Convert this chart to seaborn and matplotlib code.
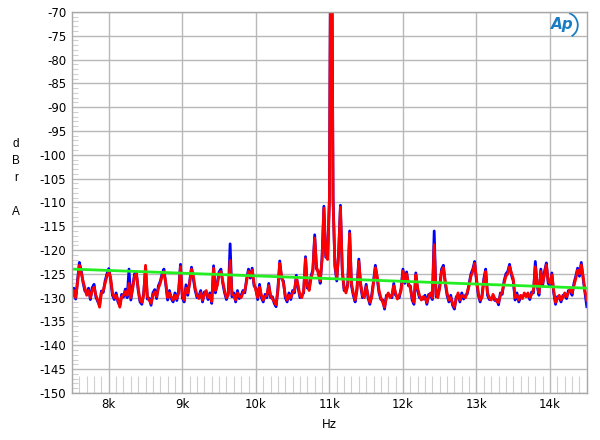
import numpy as np
import matplotlib
matplotlib.use("Agg")
import matplotlib.pyplot as plt
from matplotlib.patches import Arc
from matplotlib.ticker import MultipleLocator, FuncFormatter
import seaborn as sns

# FFT bins, 25 Hz apart, 7.5 kHz .. 14.5 kHz
freq_hz = np.arange(7500, 14501, 25)

red_db = [
    -129.5, -128.5, -130.0, -127.0, -123.2, -124.8, -126.5, -128.0, -129.5, -128.5,
    -130.0, -128.5, -127.8, -129.5, -130.5, -132.0, -129.0, -128.5, -127.0, -125.5,
    -124.5, -125.8, -129.0, -130.0, -129.5, -130.5, -132.0, -129.8, -129.5, -128.7,
    -129.5, -127.0, -130.0, -128.2, -125.5, -125.0, -128.0, -130.5, -131.0, -129.5,
    -123.2, -129.8, -130.5, -131.2, -129.5, -128.8, -129.8, -128.0, -127.0, -125.5,
    -124.5, -126.8, -130.0, -129.0, -129.8, -130.5, -129.5, -130.2, -129.0, -123.5,
    -129.5, -130.5, -128.0, -129.0, -127.0, -124.0, -125.5, -128.0, -129.5, -130.2,
    -129.0, -130.5, -129.3, -128.5, -130.0, -129.5, -130.8, -123.8, -128.5, -127.5,
    -125.0, -124.5, -126.5, -128.5, -130.0, -129.5, -122.2, -129.3, -129.5, -130.5,
    -129.0, -129.8, -130.0, -129.0, -128.5, -126.5, -124.5, -125.5, -124.2, -127.0,
    -128.5, -130.0, -127.8, -129.5, -130.5, -129.8, -129.5, -127.5, -129.5, -130.3,
    -130.8, -131.5, -128.5, -122.8, -125.5, -127.0, -129.5, -130.5, -129.5, -130.0,
    -129.0, -128.5, -125.8, -127.5, -129.5, -130.0, -128.5, -121.8, -127.5, -128.5,
    -126.0, -124.5, -117.5, -123.5, -125.0, -126.5, -122.0, -111.2, -121.0, -122.0,
    -110.0, -30.0, -110.0, -123.0, -126.0, -121.0, -111.0, -124.0, -128.0, -129.0,
    -127.5, -116.5, -127.0, -129.0, -130.5, -128.5, -122.4, -127.0, -129.5, -130.0,
    -127.7, -129.5, -131.0, -130.0, -127.0, -123.7, -125.5, -128.5, -130.0, -131.0,
    -132.0, -130.0, -129.0, -130.0, -129.5, -127.5, -129.0, -130.3, -129.5, -128.5,
    -124.4, -126.5, -125.0, -127.0, -128.0, -130.0, -131.0, -125.2, -128.0, -129.5,
    -130.5, -129.8, -130.0, -131.0, -129.8, -129.0, -130.0, -118.9, -129.3, -130.0,
    -128.0, -124.5, -123.7, -126.5, -129.0, -130.5, -130.0, -131.2, -132.0, -130.2,
    -129.0, -130.5, -129.5, -129.8, -130.0, -128.8, -127.5, -125.5, -124.5, -122.8,
    -126.0, -129.0, -130.5, -130.0, -126.5, -124.5, -129.0, -130.0, -130.5, -129.3,
    -130.2, -130.8, -131.0, -129.5, -128.8, -127.0, -125.5, -125.0, -123.5, -124.8,
    -126.0, -130.0, -129.5, -130.5, -129.5, -130.2, -129.0, -129.8, -129.0, -130.0,
    -129.3, -128.5, -123.5, -127.0, -129.0, -124.5, -127.0, -125.0, -123.1, -126.5,
    -127.0, -125.2, -128.5, -131.0, -130.2, -129.5, -130.5, -130.0, -129.0, -129.8,
    -129.0, -128.2, -129.0, -127.5, -126.0, -124.2, -125.0, -123.1, -125.5, -128.5,
    -130.5,
]

blue_db = [
    -130.0, -128.0, -130.3, -126.5, -122.6, -124.3, -126.8, -128.6, -129.0, -128.0,
    -130.4, -127.9, -127.2, -129.9, -130.8, -131.6, -128.6, -128.9, -126.5, -125.0,
    -123.9, -126.2, -129.5, -130.4, -129.0, -130.9, -131.7, -129.3, -129.9, -128.2,
    -130.0, -124.0, -130.5, -127.7, -125.0, -124.6, -128.5, -130.9, -131.4, -129.0,
    -123.6, -130.3, -130.1, -131.6, -129.0, -128.3, -130.2, -127.5, -126.6, -125.0,
    -124.0, -127.2, -130.5, -128.5, -130.2, -130.9, -129.0, -130.6, -128.5, -123.0,
    -130.0, -130.9, -127.3, -129.5, -126.5, -123.6, -126.0, -128.5, -130.0, -129.7,
    -128.5, -130.9, -128.8, -129.0, -130.4, -129.0, -131.2, -123.3, -129.0, -127.0,
    -124.6, -124.0, -127.0, -129.0, -130.4, -129.0, -118.7, -129.8, -129.0, -130.9,
    -128.5, -130.2, -129.5, -128.5, -129.0, -126.0, -124.0, -125.9, -123.8, -127.5,
    -128.0, -130.4, -127.2, -130.0, -130.9, -129.3, -130.0, -127.0, -130.0, -129.8,
    -131.2, -131.9, -128.0, -122.3, -126.0, -126.5, -130.0, -130.9, -129.0, -130.4,
    -128.5, -129.0, -125.3, -128.0, -130.0, -129.5, -129.0, -121.4, -128.0, -128.0,
    -125.5, -124.1, -116.8, -124.0, -124.5, -127.0, -121.6, -110.8, -121.5, -121.6,
    -109.0, -30.0, -109.0, -123.5, -126.5, -120.6, -110.6, -124.5, -128.5, -128.5,
    -127.0, -116.0, -127.5, -129.5, -130.9, -128.0, -121.9, -127.5, -130.0, -129.5,
    -127.2, -130.0, -131.4, -129.5, -126.5, -123.2, -126.0, -129.0, -130.4, -130.5,
    -132.4, -129.5, -129.5, -129.6, -130.0, -127.0, -129.5, -129.8, -130.0, -128.0,
    -124.0, -127.0, -124.6, -127.5, -127.5, -130.5, -131.4, -124.8, -128.5, -130.0,
    -130.1, -130.3, -129.5, -131.4, -129.3, -129.5, -130.4, -116.0, -129.8, -129.5,
    -127.5, -124.0, -123.2, -127.0, -129.5, -130.9, -129.5, -131.6, -132.4, -129.8,
    -129.5, -130.9, -129.0, -130.3, -129.5, -129.2, -127.0, -125.0, -124.0, -122.4,
    -126.5, -129.5, -130.9, -129.5, -126.0, -124.0, -129.5, -130.4, -130.1, -129.8,
    -130.6, -130.4, -131.5, -129.0, -129.3, -126.5, -125.0, -124.5, -123.0, -125.2,
    -126.5, -130.5, -129.0, -130.9, -130.0, -129.7, -129.5, -129.3, -129.5, -130.4,
    -128.8, -129.0, -122.4, -127.5, -129.5, -124.0, -127.5, -124.5, -122.7, -127.0,
    -127.5, -124.8, -129.0, -131.4, -129.8, -130.0, -130.9, -129.5, -129.5, -130.2,
    -128.5, -128.6, -129.5, -127.0, -125.5, -123.8, -125.5, -122.6, -126.0, -129.0,
    -131.9,
]

# straight reference line
green_hz = [7500, 14500]
green_db = [-124.0, -128.0]

fig = plt.figure(figsize=(6, 4.4), dpi=100, facecolor="white")
ax = fig.add_axes([0.12, 0.107, 0.858, 0.866])
plt.rcParams["font.family"] = ["Liberation Sans", "DejaVu Sans"]

sns.lineplot(x=freq_hz, y=blue_db, color="#0000ff", lw=2, ax=ax, estimator=None, sort=False)
sns.lineplot(x=freq_hz, y=red_db, color="#ff0000", lw=2, ax=ax, estimator=None, sort=False)
sns.lineplot(x=green_hz, y=green_db, color="#22ee22", lw=2, ax=ax, estimator=None, sort=False)

ax.set_xlim(7500, 14500)
ax.set_ylim(-150, -70)
ax.xaxis.set_major_locator(MultipleLocator(1000))
ax.xaxis.set_minor_locator(MultipleLocator(100))
ax.yaxis.set_major_locator(MultipleLocator(5))
ax.yaxis.set_minor_locator(MultipleLocator(1))
ax.xaxis.set_major_formatter(FuncFormatter(lambda v, p: "%dk" % round(v / 1000)))
ax.yaxis.set_major_formatter(FuncFormatter(lambda v, p: "%d" % v))

ax.grid(True, which="major", color="#b8b8b8", lw=1)
ax.set_axisbelow(True)
ax.tick_params(which="major", length=0, labelsize=8.5, colors="black", pad=4)
ax.tick_params(axis="y", which="minor", direction="in", length=4, color="#d0d0d0", width=0.8)
ax.tick_params(axis="x", which="minor", direction="in", length=12, color="#d0d0d0", width=0.8)
for s in ax.spines.values():
    s.set_color("#a8a8a8")
    s.set_linewidth(1)

ax.set_xlabel("Hz", fontsize=8.5, labelpad=5)
ax.set_ylabel("")
fig.text(0.027, 0.595, "d\nB\nr\n\nA", fontsize=8.5, ha="center", va="center", linespacing=1.55)

# Ap logo in the corner
ax.text(0.953, 0.966, "Ap", transform=ax.transAxes, fontsize=11, fontstyle="italic",
        fontweight="bold", color="#1a7cc4", ha="center", va="center", family="DejaVu Sans")
ax.add_patch(Arc((0.96, 0.965), 0.045, 0.065, theta1=-70, theta2=80, transform=ax.transAxes,
                 color="#1a7cc4", lw=1.3))

fig.savefig("out.png", dpi=100)
